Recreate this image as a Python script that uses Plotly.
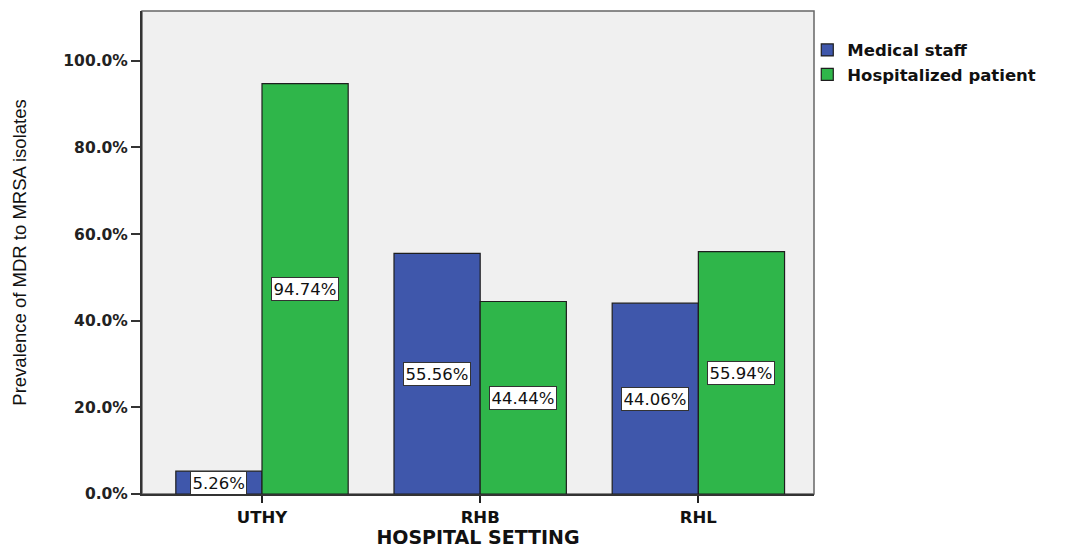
import plotly.graph_objects as go

categories = ["UTHY", "RHB", "RHL"]
medical_staff = [5.26, 55.56, 44.06]
hospitalized_patient = [94.74, 44.44, 55.94]
series_names = ["Medical staff", "Hospitalized patient"]
y_ticks = [0, 20, 40, 60, 80, 100]
y_tick_labels = ["0.0%", "20.0%", "40.0%", "60.0%", "80.0%", "100.0%"]

colors = ["#3F57AB", "#2FB64A"]
bargap = 0.21
bar_w = (1 - bargap) / 2

fig = go.Figure()
xs = list(range(len(categories)))
for j, (name, vals) in enumerate(zip(series_names, [medical_staff, hospitalized_patient])):
    fig.add_trace(go.Bar(
        x=xs, y=vals, name=name,
        marker=dict(color=colors[j], line=dict(color="#1e1e1e", width=1.2)),
    ))
    for i, v in enumerate(vals):
        fig.add_annotation(
            x=i + (j - 0.5) * bar_w, y=v / 2, text=f"{v:.2f}%",
            showarrow=False, bgcolor="white", bordercolor="#333333",
            borderwidth=1, borderpad=1.5,
            font=dict(family="DejaVu Sans", size=16.5, color="#111111"),
        )

fig.update_layout(
    width=1063, height=540,
    barmode="group", bargap=bargap, bargroupgap=0,
    paper_bgcolor="white", plot_bgcolor="#F0F0F0",
    margin=dict(l=134, r=257, t=3, b=54),
    legend=dict(x=0.99, y=0.955, xanchor="left", yanchor="top",
                font=dict(family="DejaVu Sans", size=16.5, color="#111111", weight="bold"),
                bgcolor="rgba(0,0,0,0)", tracegroupgap=0, itemwidth=30),
    xaxis=dict(
        tickmode="array", tickvals=xs, ticktext=categories,
        range=[-0.55, 2.53], showgrid=False, zeroline=False, automargin=False,
        ticks="outside", ticklen=7, tickcolor="#222222", tickwidth=1.5,
        showline=True, linecolor="#333333", linewidth=1.5,
        tickfont=dict(family="DejaVu Sans", size=16.5, color="#111111", weight="bold"),
        title=dict(text="HOSPITAL SETTING", standoff=16,
                   font=dict(family="DejaVu Sans", size=19, color="#111111", weight="bold")),
    ),
    yaxis=dict(
        range=[0, 111.5], tickmode="array", tickvals=y_ticks, ticktext=y_tick_labels,
        showgrid=False, zeroline=False, automargin=False,
        ticks="outside", ticklen=9, tickcolor="#333333", tickwidth=1.5,
        showline=True, linecolor="#333333", linewidth=2,
        tickfont=dict(family="DejaVu Sans", size=15.5, color="#222222", weight="bold"),
        title=dict(text="Prevalence of MDR to MRSA isolates", standoff=32,
                   font=dict(family="Liberation Sans", size=18.5, color="#111111")),
    ),
    shapes=[dict(type="rect", xref="paper", yref="paper", x0=0, y0=0, x1=1, y1=1,
                 line=dict(color="#666666", width=1.5), layer="below")],
)

fig.write_html("out.html")
